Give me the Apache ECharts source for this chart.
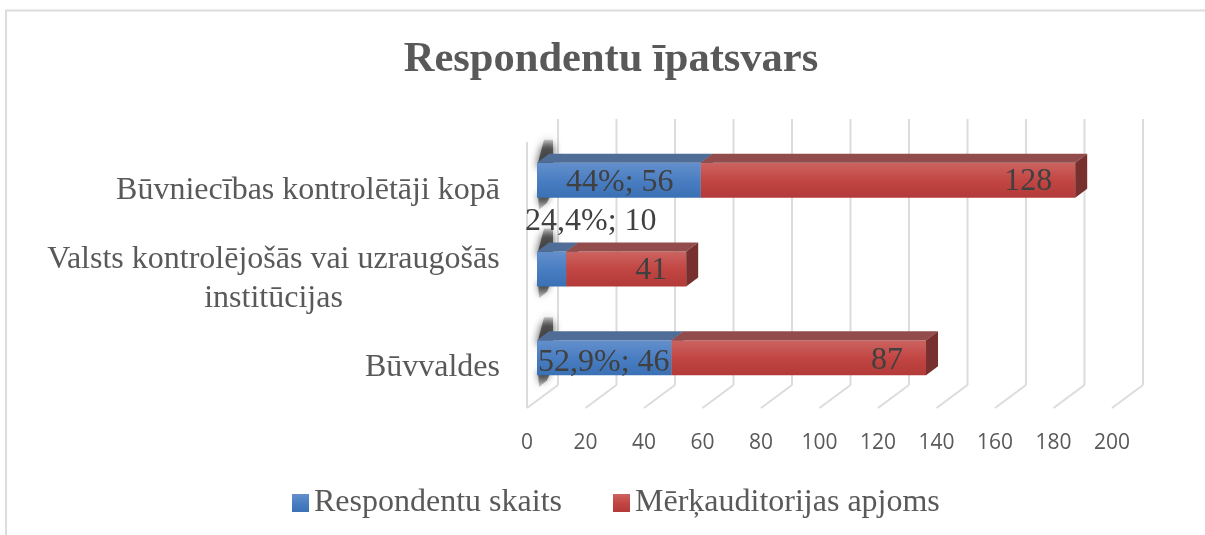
<!DOCTYPE html>
<html>
<head>
<meta charset="utf-8">
<style>
  html, body { margin: 0; padding: 0; background: #fff; }
  #chart { width: 1205px; height: 535px; }
</style>
<script src="https://cdn.jsdelivr.net/npm/echarts@6/dist/echarts.min.js"></script>
</head>
<body>
<div id="chart"></div>
<script>
var titleText = "Respondentu īpatsvars";
var categories = ["Būvvaldes", "Valsts kontrolējošās vai uzraugošās\ninstitūcijas", "Būvniecības kontrolētāji kopā"];
var respondents = [46, 10, 56];
var audience = [87, 41, 128];
var respondentLabels = ["52,9%; 46", "24,4%; 10", "44%; 56"];
var audienceLabels = ["87", "41", "128"];
var xTicks = [0, 20, 40, 60, 80, 100, 120, 140, 160, 180, 200];

var serif = "Liberation Serif";
var textColor = "#595959";
var barText = "#404040";
// 3d look: back wall offset, bar offset from the front plane, bar depth
var wall = [31, -23];
var barShift = [10, -6];
var depth = [12, -9];
var barHeight = 35;

function vGrad(stops) {
  return new echarts.graphic.LinearGradient(0, 0, 0, 1, stops.map(function (c, i) {
    return { offset: i / (stops.length - 1), color: c };
  }));
}
var blueFront = vGrad(["#6490cc", "#4a7ec2", "#3a70b4"]);
var redFront = vGrad(["#cb6461", "#c24643", "#b23a38"]);

function wallItem(params, api) {
  var p = api.coord([api.value(0), 0]);
  var topY = params.coordSys.y;
  var bottomY = topY + params.coordSys.height;
  var style = { stroke: "#dcdcdc", lineWidth: 2, fill: null };
  var kids = [
    { type: "line", shape: { x1: p[0], y1: bottomY, x2: p[0] + wall[0], y2: bottomY + wall[1] }, style: style },
    { type: "line", shape: { x1: p[0] + wall[0], y1: bottomY + wall[1], x2: p[0] + wall[0], y2: topY + wall[1] }, style: style }
  ];
  if (api.value(0) === 0) {
    kids.push({ type: "line", shape: { x1: p[0], y1: bottomY, x2: p[0], y2: topY }, style: style });
  }
  return { type: "group", children: kids };
}

// soft dark smudge above and below the start of each bar
function shadowItem(params, api) {
  var p = api.coord([0, api.value(0)]);
  var x = p[0] + barShift[0], y = p[1] + barShift[1] - barHeight / 2;
  var up = new echarts.graphic.LinearGradient(0, 0, 0, 1, [
    { offset: 0, color: "rgba(70,70,70,0.25)" }, { offset: 0.35, color: "rgba(70,70,70,0.85)" }, { offset: 1, color: "rgba(60,60,60,1)" }
  ]);
  var down = new echarts.graphic.LinearGradient(0, 0, 0, 1, [
    { offset: 0, color: "rgba(60,60,60,1)" }, { offset: 1, color: "rgba(70,70,70,0.2)" }
  ]);
  return {
    type: "group",
    children: [
      { type: "polygon", shape: { points: [[x + 0, y + 4], [x + 7, y - 23], [x + 16, y - 23], [x + 16, y + 4]] },
        style: { fill: up, shadowBlur: 8, shadowColor: "rgba(60,60,60,1)" } },
      { type: "polygon", shape: { points: [[x + 1, y + barHeight - 4], [x + 14, y + barHeight - 4], [x + 10, y + barHeight + 5], [x + 2, y + barHeight + 12]] },
        style: { fill: down, shadowBlur: 7, shadowColor: "rgba(60,60,60,0.9)" } }
    ]
  };
}

function barRender(front, topFill, sideFill, labels, labelAnchor, labelDx, labelDy) {
  return function (params, api) {
    var base = api.value(2);
    var a = api.coord([base, api.value(0)]);
    var b = api.coord([base + api.value(1), api.value(0)]);
    var x0 = a[0] + barShift[0], x1 = b[0] + barShift[0];
    var y0 = a[1] + barShift[1] - barHeight / 2, y1 = y0 + barHeight;
    var dx = depth[0], dy = depth[1];
    return {
      type: "group",
      children: [
        { type: "rect", shape: { x: x0, y: y0, width: x1 - x0, height: barHeight }, style: { fill: front } },
        { type: "polygon", shape: { points: [[x0, y0], [x1, y0], [x1 + dx, y0 + dy], [x0 + dx, y0 + dy]] }, style: { fill: topFill } },
        { type: "polygon", shape: { points: [[x1, y0], [x1 + dx, y0 + dy], [x1 + dx, y1 + dy], [x1, y1]] }, style: { fill: sideFill } },
        {
          type: "text", z2: 50,
          style: {
            text: labels[params.dataIndex],
            x: (labelAnchor === "end" ? x1 : x0) + labelDx[params.dataIndex],
            y: y0 + barHeight / 2 + labelDy[params.dataIndex],
            font: "32px " + serif, fill: barText,
            align: labelAnchor === "end" ? "right" : "left", verticalAlign: "middle"
          }
        }
      ]
    };
  };
}

var chart = echarts.init(document.getElementById("chart"));
chart.setOption({
  animation: false,
  backgroundColor: "#fff",
  title: {
    text: titleText, left: 606, top: 34, textAlign: "center",
    textStyle: { fontFamily: serif, fontWeight: "bold", fontSize: 42.5, color: textColor }
  },
  legend: {
    left: 287, top: 482, icon: "rect", itemWidth: 17, itemHeight: 18, itemGap: 51,
    textStyle: { fontFamily: serif, fontSize: 32, color: textColor },
    data: ["Respondentu skaits", "Mērķauditorijas apjoms"]
  },
  grid: { left: 527, width: 585, top: 142, height: 266 },
  xAxis: {
    type: "value", min: 0, max: 200, interval: 20,
    axisLine: { show: false }, axisTick: { show: false }, splitLine: { show: false },
    axisLabel: { margin: 25, fontFamily: "Open Sans", fontSize: 21, color: textColor }
  },
  yAxis: {
    type: "category", data: categories,
    axisLine: { show: false }, axisTick: { show: false },
    axisLabel: {
      margin: 27, color: textColor, align: "right", padding: [8, 0, 0, 0],
      fontFamily: serif, fontSize: 32, lineHeight: 39,
      // second line of a wrapped label sits centred under the first one
      formatter: function (v) {
        var lines = v.split("\n");
        if (lines.length < 2) return v;
        return lines.map(function (l) { return "{c|" + l + "}"; }).join("\n");
      },
      rich: { c: { width: 453, align: "center", fontFamily: serif, fontSize: 32, lineHeight: 39, color: textColor } }
    }
  },
  graphic: [
    { type: "polyline", silent: true, shape: { points: [[6, 535], [6, 10.5], [1205, 10.5]] }, style: { stroke: "#dcdcdc", lineWidth: 2, fill: null } }
  ],
  series: [
    {
      type: "custom", silent: true, coordinateSystem: "cartesian2d", z: 1, renderItem: wallItem,
      encode: { x: 0 }, data: xTicks.map(function (t) { return [t]; })
    },
    {
      type: "custom", silent: true, coordinateSystem: "cartesian2d", z: 2, renderItem: shadowItem,
      encode: { y: 0 }, data: categories.map(function (c, i) { return [i]; })
    },
    {
      name: "Respondentu skaits", type: "custom", coordinateSystem: "cartesian2d", z: 3,
      itemStyle: { color: blueFront },
      renderItem: barRender(blueFront, "#4f6d96", "#3f5d86", respondentLabels, "start", [1, -12, 29], [5, -47, 2]),
      encode: { x: 1, y: 0 },
      data: respondents.map(function (v, i) { return [i, v, 0]; })
    },
    {
      name: "Mērķauditorijas apjoms", type: "custom", coordinateSystem: "cartesian2d", z: 4,
      itemStyle: { color: redFront },
      renderItem: barRender(redFront, "#934c4c", "#77302d", audienceLabels, "end", [-23, -19, -23], [3, 2, 1]),
      encode: { x: 1, y: 0 },
      data: audience.map(function (v, i) { return [i, v, respondents[i]]; })
    }
  ]
});
</script>
</body>
</html>
